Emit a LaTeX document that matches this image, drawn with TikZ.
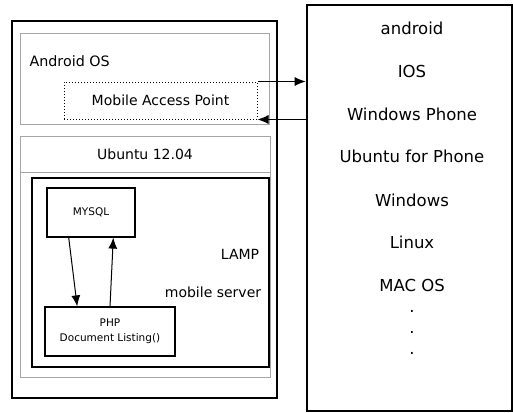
\documentclass[tikz,border=0pt]{standalone}
\usepackage{fontspec}
\setmainfont{DejaVu Sans}
\usetikzlibrary{arrows.meta,calc}
\begin{document}
\begin{tikzpicture}[x=1pt,y=-1pt,>={Latex[length=11pt,width=9pt]}]
\useasboundingbox (0,0) rectangle (513,412);
% left side: phone running android with ubuntu inside
\node[draw, rectangle, line width=2.6pt, minimum width=265pt, minimum height=377pt] (host) at (144.5,209.5) {};
\node[draw=gray!70, rectangle, line width=0.8pt, minimum width=249pt, minimum height=91pt] (android) at (144.5,78.5) {};
\node[anchor=west, font=\fontsize{14.3}{16}\selectfont] (androidlbl) at (26,61) {Android OS};
\node[draw, rectangle, dotted, line width=1pt, minimum width=193pt, minimum height=37pt, font=\fontsize{14}{16}\selectfont] (map) at (160.5,100.5) {Mobile Access Point};
\node[draw=gray!70, rectangle, line width=0.8pt, minimum width=250pt, minimum height=241pt] (ubuntu) at (145,256.5) {};
\node[draw=gray!70, rectangle, line width=0.8pt, minimum width=250pt, minimum height=36pt, font=\fontsize{14}{16}\selectfont] (ubuntulbl) at (145,154) {Ubuntu 12.04};
\node[draw, rectangle, line width=1.3pt, minimum width=237pt, minimum height=189pt] (lamp) at (150.5,272.5) {};
\node[draw, rectangle, line width=1.2pt, minimum width=88pt, minimum height=49pt, font=\fontsize{10.5}{12}\selectfont] (mysql) at (91,212.5) {MYSQL};
\node[draw, rectangle, line width=1.2pt, minimum width=130pt, minimum height=49pt, align=center, font=\fontsize{10.5}{15}\selectfont] (php) at (110,331.5) {PHP\\Document Listing()};
\node[font=\fontsize{14}{16}\selectfont] (lamplbl) at (240,254) {LAMP};
\node[font=\fontsize{14}{16}\selectfont] (serverlbl) at (213,292) {mobile server};
\draw[->, line width=1pt] ($(mysql.south west)!0.25!(mysql.south east)$) -- ($(php.north west)!0.25!(php.north east)$);
\draw[->, line width=1pt] (php.north) -- ($(mysql.south west)!0.75!(mysql.south east)$);
% right side: client systems
\node[draw, rectangle, line width=2.6pt, minimum width=205pt, minimum height=406pt] (clients) at (409.5,208) {};
\foreach \name/\txt/\y in {c1/android/28, c2/IOS/71, c3/Windows Phone/114, c4/Ubuntu for Phone/156, c5/Windows/200, c6/Linux/242, c7/MAC OS/285, d1/./311, d2/./332, d3/./353}
  \node[font=\fontsize{16.5}{18}\selectfont] (\name) at (412,\y) {\txt};
\draw[->, line width=1pt] (map.north east) -- (map.north east -| clients.west);
\draw[->, line width=1pt] (map.south east -| clients.west) -- (map.south east);
\end{tikzpicture}
\end{document}
